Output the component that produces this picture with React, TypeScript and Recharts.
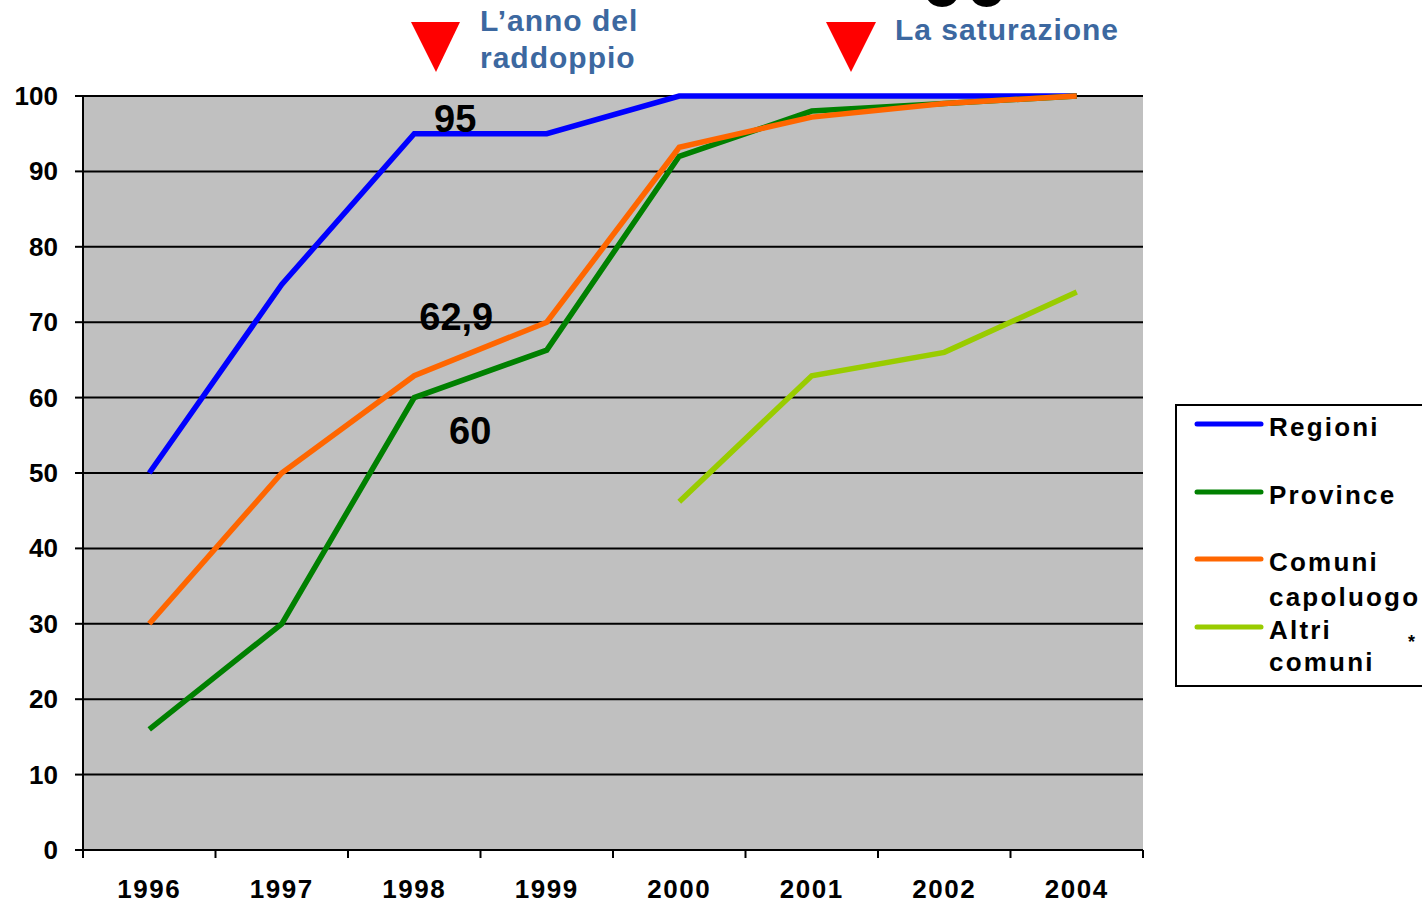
import { LineChart, Line, XAxis, YAxis, CartesianGrid, Legend, ReferenceDot } from "recharts";

const years = ["1996", "1997", "1998", "1999", "2000", "2001", "2002", "2004"];
const regioni = [50, 75, 95, 95, 100, 100, 100, 100];
const province = [16, 30, 60, 66.3, 92, 98, 99, 100];
const comuniCapoluogo = [30, 50, 62.9, 70, 93.2, 97.2, 99, 100];
const altriComuni = [null, null, null, null, 46.2, 62.9, 66, 74];
const yTicks = [0, 10, 20, 30, 40, 50, 60, 70, 80, 90, 100];

const series = [
  { key: "regioni", name: "Regioni", color: "#0000ff", values: regioni },
  { key: "province", name: "Province", color: "#008000", values: province },
  { key: "comuni", name: "Comuni capoluogo", color: "#ff6600", values: comuniCapoluogo },
  { key: "altri", name: "Altri comuni", color: "#99cc00", values: altriComuni },
];

// callout numbers written on the plot
const notes = [
  { year: "1998", value: 95, text: "95", dx: 41, dy: -2 },
  { year: "1998", value: 62.9, text: "62,9", dx: 42, dy: -46 },
  { year: "1998", value: 60, text: "60", dx: 56, dy: 46 },
];

const data = years.map((year, i) => {
  const row: any = { year };
  series.forEach((s) => (row[s.key] = s.values[i]));
  return row;
});

const W = 1422;
const H = 903;
const M = { top: 96, right: 279, bottom: 0, left: 0 };
const X_H = 53;
const Y_W = 83;
const BAND = (W - M.left - M.right - Y_W) / years.length;
const FONT = "'Liberation Sans', Arial, sans-serif";
const BLUE_TXT = "#3c68a0";

const XTick = (props: any) => {
  const { x, y, payload, index } = props;
  const last = index === years.length - 1;
  return (
    <g>
      <line x1={x - BAND / 2} x2={x - BAND / 2} y1={y} y2={y + 8} stroke="#000" strokeWidth={2} />
      {last && <line x1={x + BAND / 2} x2={x + BAND / 2} y1={y} y2={y + 8} stroke="#000" strokeWidth={2} />}
      <text x={x} y={y + 48} textAnchor="middle" fontFamily={FONT} fontWeight="bold" fontSize={26} letterSpacing={1.5} fill="#000">
        {payload.value}
      </text>
    </g>
  );
};

const YTick = (props: any) => {
  const { x, y, payload } = props;
  return (
    <text x={x - 2} y={y + 9} textAnchor="end" fontFamily={FONT} fontWeight="bold" fontSize={26} fill="#000">
      {payload.value}
    </text>
  );
};

const legendRows = [
  { color: "#0000ff", lineY: 20, lines: [{ t: "Regioni", y: 32 }] },
  { color: "#008000", lineY: 88, lines: [{ t: "Province", y: 100 }] },
  { color: "#ff6600", lineY: 155, lines: [{ t: "Comuni", y: 167 }, { t: "capoluogo", y: 202 }] },
  { color: "#99cc00", lineY: 223, lines: [{ t: "Altri", y: 235 }, { t: "comuni", y: 267 }] },
];

const LegendBox = () => (
  <svg width={262} height={284} style={{ display: "block" }}>
    <rect x={1} y={1} width={270} height={281} fill="#fff" stroke="#000" strokeWidth={2} />
    {legendRows.map((r, i) => (
      <g key={i}>
        <line x1={22} x2={86} y1={r.lineY} y2={r.lineY} stroke={r.color} strokeWidth={5} strokeLinecap="round" />
        {r.lines.map((l, j) => (
          <text key={j} x={94} y={l.y} fontFamily={FONT} fontWeight="bold" fontSize={26} letterSpacing={2.2} fill="#000">
            {l.t}
          </text>
        ))}
      </g>
    ))}
    <text x={233} y={244} fontFamily={FONT} fontWeight="bold" fontSize={18} fill="#000">*</text>
  </svg>
);

const noteLabel = (text: string, dx: number, dy: number) => (props: any) => {
  const vb = props.viewBox || {};
  const cx = vb.x + (vb.width || 0) / 2;
  const cy = vb.y + (vb.height || 0) / 2;
  return (
    <text x={cx + dx} y={cy + dy} textAnchor="middle" fontFamily={FONT} fontWeight="bold" fontSize={38} fill="#000">
      {text}
    </text>
  );
};

export default function App() {
  return (
    <div style={{ position: "absolute", left: 0, top: 0, width: W, height: H, overflow: "hidden", background: "#fff" }}>
      <LineChart width={W} height={H} data={data} margin={M}>
        <CartesianGrid vertical={false} fill="#c0c0c0" stroke="#000" strokeWidth={2} fillOpacity={1} />
        <XAxis
          dataKey="year"
          height={X_H}
          padding={{ left: BAND / 2, right: BAND / 2 }}
          axisLine={{ stroke: "#000", strokeWidth: 2 }}
          tickLine={false}
          tickSize={0}
          tickMargin={0}
          tick={<XTick />}
          interval={0}
        />
        <YAxis
          width={Y_W}
          domain={[0, 100]}
          ticks={yTicks}
          interval={0}
          axisLine={{ stroke: "#000", strokeWidth: 2 }}
          tickLine={{ stroke: "#000", strokeWidth: 2 }}
          tickSize={8}
          tickMargin={15}
          tick={<YTick />}
        />
        <Legend
          layout="vertical"
          align="center"
          verticalAlign="middle"
          wrapperStyle={{ left: 1175, top: 404, width: 262, height: 284 }}
          content={() => <LegendBox />}
        />
        {series.map((s) => (
          <Line
            key={s.key}
            type="linear"
            dataKey={s.key}
            name={s.name}
            stroke={s.color}
            strokeWidth={5.5}
            dot={false}
            activeDot={false}
            isAnimationActive={false}
          />
        ))}
        {notes.map((n, i) => (
          <ReferenceDot
            key={i}
            x={n.year}
            y={n.value}
            r={1}
            fill="none"
            stroke="none"
            ifOverflow="visible"
            label={noteLabel(n.text, n.dx, n.dy)}
          />
        ))}
      </LineChart>
      <svg width={W} height={96} style={{ position: "absolute", left: 0, top: 0, pointerEvents: "none" }}>
        <text x={920} y={6} fontFamily={FONT} fontWeight="bold" fontSize={80} fill="#000">00</text>
        <polygon points="411,22 460,22 436,72" fill="#ff0000" />
        <polygon points="826,22 876,22 851,72" fill="#ff0000" />
        <text x={480} y={31} fontFamily={FONT} fontWeight="bold" fontSize={30} letterSpacing={1} fill={BLUE_TXT}>L’anno del</text>
        <text x={480} y={68} fontFamily={FONT} fontWeight="bold" fontSize={30} letterSpacing={1} fill={BLUE_TXT}>raddoppio</text>
        <text x={895} y={40} fontFamily={FONT} fontWeight="bold" fontSize={30} letterSpacing={1} fill={BLUE_TXT}>La saturazione</text>
      </svg>
    </div>
  );
}
